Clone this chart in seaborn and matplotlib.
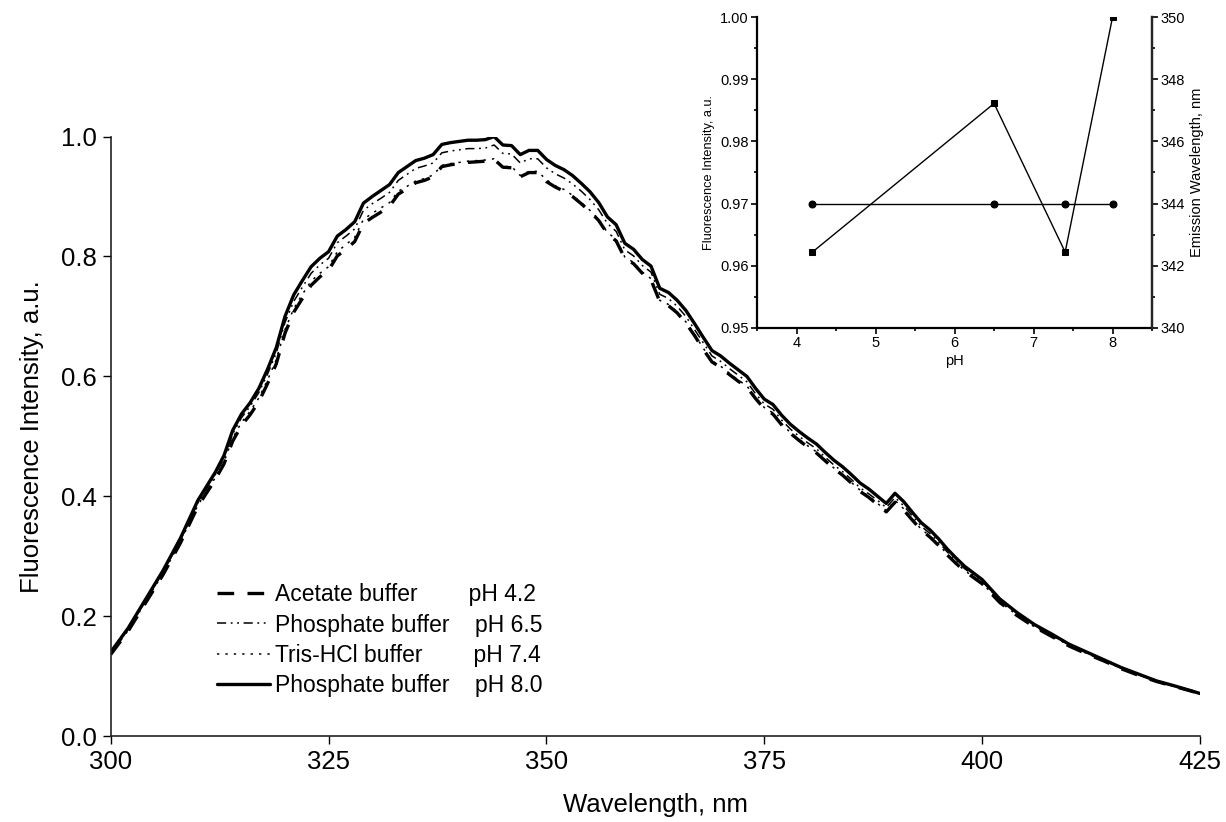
import numpy as np
import pandas as pd
import matplotlib
matplotlib.use("Agg")
import matplotlib.pyplot as plt
from matplotlib.ticker import MultipleLocator, FormatStrFormatter
import seaborn as sns

# ---- emission spectra ----
wavelength = [300, 302, 304, 306, 308, 310, 312, 313, 314, 315, 316, 317, 318, 319,
              320, 321, 322, 323, 324, 325, 326, 327, 328, 329, 330, 331, 332, 333,
              334, 335, 336, 337, 338, 339, 340, 341, 342, 343, 344, 345, 346, 347,
              348, 349, 350, 351, 352, 353, 354, 355, 356, 357, 358, 359, 360, 361,
              362, 363, 364, 365, 366, 367, 368, 369, 370, 371, 372, 373, 374, 375,
              376, 377, 378, 379, 380, 381, 382, 383, 384, 385, 386, 387, 388, 389,
              390, 391, 392, 393, 394, 395, 396, 397, 398, 400, 402, 404, 406, 408,
              410, 412, 414, 416, 418, 420, 422, 425]

phosphate_80 = [.140, .180, .228, .276, .330, .393, .440, .468, .510, .537, .556, .580, .612, .648,
                .700, .736, .760, .783, .797, .808, .834, .845, .858, .889, .900, .910, .920, .940,
                .950, .960, .964, .970, .987, .990, .992, .994, .994, .995, 1.000, .986, .985, .970,
                .977, .977, .962, .952, .945, .935, .922, .908, .890, .866, .853, .822, .812, .795,
                .784, .747, .740, .727, .710, .688, .665, .643, .634, .622, .611, .600, .580, .562,
                .553, .535, .520, .508, .497, .487, .473, .460, .449, .436, .422, .412, .400, .388,
                .405, .391, .373, .356, .344, .329, .312, .297, .283, .261, .229, .206, .186, .170,
                .153, .140, .127, .114, .103, .092, .084, .071]

phosphate_65 = [.139, .178, .226, .274, .327, .389, .436, .463, .504, .531, .550, .573, .604, .639,
                .690, .725, .749, .772, .786, .797, .823, .834, .846, .877, .888, .897, .907, .927,
                .937, .947, .951, .956, .973, .976, .978, .980, .980, .981, .986, .972, .971, .956,
                .963, .963, .948, .938, .931, .921, .909, .895, .878, .855, .842, .811, .801, .785,
                .774, .737, .730, .717, .700, .678, .656, .634, .625, .613, .602, .591, .571, .554,
                .545, .527, .512, .500, .489, .479, .465, .452, .441, .428, .414, .404, .393, .381,
                .398, .384, .367, .350, .338, .324, .307, .293, .279, .258, .227, .204, .184, .168,
                .152, .139, .126, .113, .102, .092, .083, .071]

tris_74 = [.137, .176, .224, .271, .324, .385, .431, .457, .497, .523, .542, .564, .594, .628,
           .678, .713, .737, .759, .772, .783, .808, .820, .832, .862, .872, .881, .890, .909,
           .917, .926, .930, .936, .952, .955, .957, .959, .960, .961, .963, .950, .950, .935,
           .942, .942, .928, .918, .912, .902, .890, .877, .862, .840, .829, .799, .790, .774,
           .763, .727, .720, .708, .691, .670, .647, .626, .617, .605, .594, .584, .565, .548,
           .539, .521, .506, .495, .484, .474, .460, .447, .436, .423, .410, .400, .388, .376,
           .393, .379, .362, .345, .334, .320, .303, .289, .276, .255, .224, .202, .182, .167,
           .151, .138, .125, .113, .102, .091, .083, .071]

acetate_42 = [.136, .175, .222, .269, .322, .383, .428, .454, .492, .518, .536, .558, .588, .621,
              .672, .707, .730, .752, .766, .777, .801, .812, .825, .855, .865, .874, .884, .904,
              .913, .923, .927, .933, .950, .953, .955, .957, .958, .959, .962, .949, .948, .933,
              .940, .940, .925, .916, .909, .900, .888, .875, .860, .838, .826, .797, .788, .772,
              .761, .725, .718, .706, .689, .668, .645, .624, .615, .603, .592, .582, .563, .546,
              .537, .519, .505, .493, .482, .472, .459, .446, .435, .422, .408, .398, .386, .374,
              .390, .377, .360, .344, .332, .318, .302, .288, .275, .254, .223, .201, .182, .166,
              .150, .137, .125, .112, .101, .091, .083, .071]

buffer_labels = ["Acetate buffer        pH 4.2",
                 "Phosphate buffer    pH 6.5",
                 "Tris-HCl buffer        pH 7.4",
                 "Phosphate buffer    pH 8.0"]

# ---- inset: peak intensity and emission maximum vs pH ----
ph_values = [4.2, 6.5, 7.4, 8.0]
peak_intensity = [0.9622, 0.9861, 0.9622, 1.000]
emission_max = [344, 344, 344, 344]

sns.set_style("ticks")
plt.rcParams["font.family"] = ["Liberation Sans", "DejaVu Sans"]
plt.rcParams.update({"text.color": "black", "axes.labelcolor": "black",
                     "xtick.color": "black", "ytick.color": "black"})

rows = []
for label, vals in zip(buffer_labels, [acetate_42, phosphate_65, tris_74, phosphate_80]):
    for w, v in zip(wavelength, vals):
        rows.append({"Wavelength": w, "Intensity": v, "Buffer": label})
df = pd.DataFrame(rows)

fig = plt.figure(figsize=(12.26, 8.22), dpi=100)
ax = fig.add_axes([0.0903, 0.1046, 0.8885, 0.7292])

sns.lineplot(data=df, x="Wavelength", y="Intensity", hue="Buffer", style="Buffer",
             size="Buffer", hue_order=buffer_labels, style_order=buffer_labels,
             size_order=buffer_labels,
             palette=["black"] * 4,
             sizes={buffer_labels[0]: 2.4, buffer_labels[1]: 1.1,
                    buffer_labels[2]: 1.1, buffer_labels[3]: 2.4},
             dashes={buffer_labels[0]: (5, 4), buffer_labels[1]: (6, 3, 1.2, 3, 1.2, 3),
                     buffer_labels[2]: (1.5, 4), buffer_labels[3]: ""},
             estimator=None, ax=ax)

ax.set_xlim(300, 425)
ax.set_ylim(0, 1.0)
ax.set_xticks([300, 325, 350, 375, 400, 425])
ax.set_yticks([0.0, 0.2, 0.4, 0.6, 0.8, 1.0])
ax.yaxis.set_major_formatter(FormatStrFormatter("%.1f"))
ax.tick_params(direction="out", length=6, width=1, labelsize=18.5, colors="black", pad=4)
ax.set_xlabel("Wavelength, nm", fontsize=18.5, labelpad=14)
ax.set_ylabel("Fluorescence Intensity, a.u.", fontsize=18.5, labelpad=12)
sns.despine(ax=ax)
for s in ["left", "bottom"]:
    ax.spines[s].set_linewidth(1.2)
    ax.spines[s].set_color("#222222")

handles, labels = ax.get_legend_handles_labels()
ax.legend(handles, labels, loc="upper left", bbox_to_anchor=(0.0976, 0.255),
          frameon=False, fontsize=16.5, handlelength=2.3, handletextpad=0.25,
          labelspacing=0.32, borderpad=0, borderaxespad=0)

# ---- inset ----
axi = fig.add_axes([0.6175, 0.601, 0.3222, 0.3783])
sns.lineplot(x=ph_values, y=peak_intensity, marker="s", color="black", lw=1,
             markersize=5, markeredgecolor="black", ax=axi)
axi.set_xlim(3.5, 8.5)
axi.set_ylim(0.95, 1.00)
axi.xaxis.set_major_locator(MultipleLocator(1))
axi.xaxis.set_minor_locator(MultipleLocator(0.5))
axi.yaxis.set_major_locator(MultipleLocator(0.01))
axi.yaxis.set_minor_locator(MultipleLocator(0.005))
axi.yaxis.set_major_formatter(FormatStrFormatter("%.2f"))
axi.set_xlabel("pH", fontsize=10.5, labelpad=3)
axi.set_ylabel("Fluorescence Intensity, a.u.", fontsize=9.2, labelpad=4)
axi.tick_params(which="major", direction="out", length=4, width=1.2, labelsize=10.5, pad=2)
axi.tick_params(which="minor", direction="out", length=2.5, width=1.2)
axi.spines["top"].set_visible(False)
for s in ["left", "bottom", "right"]:
    axi.spines[s].set_linewidth(1.6)
    axi.spines[s].set_color("black")

axr = axi.twinx()
sns.lineplot(x=ph_values, y=emission_max, marker="o", color="black", lw=1,
             markersize=5, markeredgecolor="black", ax=axr)
axr.set_ylim(340, 350)
axr.yaxis.set_major_locator(MultipleLocator(2))
axr.yaxis.set_minor_locator(MultipleLocator(1))
axr.set_ylabel("Emission Wavelength, nm", fontsize=10.5, labelpad=4)
axr.tick_params(which="major", direction="out", length=4, width=1.2, labelsize=10.5, pad=2)
axr.tick_params(which="minor", direction="out", length=2.5, width=1.2)
for s in ["top", "left", "bottom"]:
    axr.spines[s].set_visible(False)
axr.spines["right"].set_linewidth(1.6)

fig.savefig("out.png", dpi=100)
